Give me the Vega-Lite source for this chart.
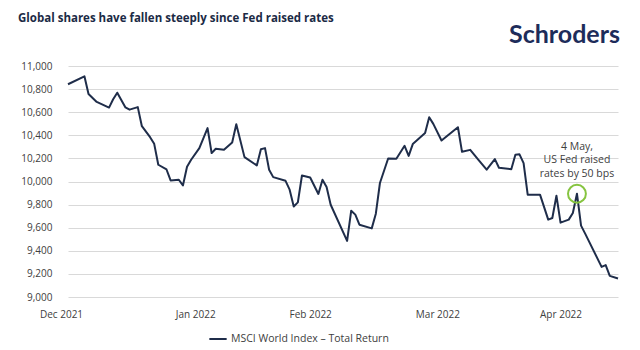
{
  "$schema": "https://vega.github.io/schema/vega-lite/v6.json",
  "width": 550,
  "height": 231,
  "autosize": "none",
  "padding": {"left": 68, "top": 66, "right": 22, "bottom": 53},
  "background": "#ffffff",
  "title": {
    "text": "Global shares have fallen steeply since Fed raised rates",
    "anchor": "start",
    "frame": "group",
    "dx": -50,
    "dy": 22,
    "offset": 12,
    "baseline": "alphabetic",
    "font": "Open Sans",
    "fontSize": 11.5,
    "fontWeight": "bold",
    "color": "#1b2a45"
  },
  "config": {"view": {"stroke": null}, "font": "Open Sans"},
  "encoding": {
    "x": {
      "field": "date",
      "type": "temporal",
      "scale": {"type": "utc", "domain": [{"year": 2021, "month": 12, "date": 31, "utc": true}, {"year": 2022, "month": 5, "date": 14, "utc": true}]},
      "axis": {
        "values": [
          {"year": 2021, "month": 12, "date": 31, "utc": true},
          {"year": 2022, "month": 1, "date": 31, "utc": true},
          {"year": 2022, "month": 2, "date": 28, "utc": true},
          {"year": 2022, "month": 3, "date": 31, "utc": true},
          {"year": 2022, "month": 4, "date": 30, "utc": true}
        ],
        "labelExpr": "utcFormat(datum.value, '%b %Y')",
        "grid": false,
        "domain": false,
        "ticks": false,
        "labelPadding": 12,
        "labelFlush": false,
        "labelOverlap": false,
        "labelOffset": {"condition": {"test": "utcmonth(datum.value) === 11", "value": -7}, "value": 0},
        "labelFont": "Open Sans",
        "labelFontSize": 10,
        "labelColor": "#404040",
        "title": null
      }
    },
    "y": {
      "field": "value",
      "type": "quantitative",
      "scale": {"domain": [9000, 11000], "nice": false, "zero": false},
      "axis": {
        "values": [9000, 9200, 9400, 9600, 9800, 10000, 10200, 10400, 10600, 10800, 11000],
        "tickCount": 11,
        "format": ",d",
        "grid": true,
        "gridColor": "#d9d9d9",
        "gridWidth": 1,
        "domain": false,
        "ticks": false,
        "labelOverlap": false,
        "labelBound": false,
        "labelPadding": 16,
        "labelFont": "Open Sans",
        "labelFontSize": 10,
        "labelColor": "#404040",
        "title": null
      }
    }
  },
  "layer": [
    {
      "data": {"values": [
        {"date": "2021-12-31", "value": 10842},
        {"date": "2022-01-04", "value": 10911},
        {"date": "2022-01-05", "value": 10758},
        {"date": "2022-01-07", "value": 10689},
        {"date": "2022-01-10", "value": 10640},
        {"date": "2022-01-11", "value": 10712},
        {"date": "2022-01-12", "value": 10769},
        {"date": "2022-01-14", "value": 10641},
        {"date": "2022-01-15", "value": 10622},
        {"date": "2022-01-17", "value": 10644},
        {"date": "2022-01-18", "value": 10479},
        {"date": "2022-01-20", "value": 10384},
        {"date": "2022-01-21", "value": 10326},
        {"date": "2022-01-22", "value": 10145},
        {"date": "2022-01-24", "value": 10104},
        {"date": "2022-01-25", "value": 10009},
        {"date": "2022-01-27", "value": 10015},
        {"date": "2022-01-28", "value": 9966},
        {"date": "2022-01-29", "value": 10127},
        {"date": "2022-01-30", "value": 10188},
        {"date": "2022-02-01", "value": 10289},
        {"date": "2022-02-03", "value": 10462},
        {"date": "2022-02-04", "value": 10246},
        {"date": "2022-02-05", "value": 10283},
        {"date": "2022-02-07", "value": 10274},
        {"date": "2022-02-09", "value": 10337},
        {"date": "2022-02-10", "value": 10496},
        {"date": "2022-02-12", "value": 10211},
        {"date": "2022-02-15", "value": 10139},
        {"date": "2022-02-16", "value": 10280},
        {"date": "2022-02-17", "value": 10289},
        {"date": "2022-02-18", "value": 10102},
        {"date": "2022-02-19", "value": 10038},
        {"date": "2022-02-22", "value": 10006},
        {"date": "2022-02-23", "value": 9929},
        {"date": "2022-02-24", "value": 9784},
        {"date": "2022-02-25", "value": 9819},
        {"date": "2022-02-26", "value": 10052},
        {"date": "2022-02-28", "value": 10035},
        {"date": "2022-03-02", "value": 9892},
        {"date": "2022-03-03", "value": 10015},
        {"date": "2022-03-04", "value": 9952},
        {"date": "2022-03-05", "value": 9799},
        {"date": "2022-03-09", "value": 9486},
        {"date": "2022-03-10", "value": 9747},
        {"date": "2022-03-11", "value": 9713},
        {"date": "2022-03-12", "value": 9626},
        {"date": "2022-03-15", "value": 9594},
        {"date": "2022-03-16", "value": 9721},
        {"date": "2022-03-17", "value": 9987},
        {"date": "2022-03-19", "value": 10199},
        {"date": "2022-03-21", "value": 10197},
        {"date": "2022-03-23", "value": 10309},
        {"date": "2022-03-24", "value": 10222},
        {"date": "2022-03-25", "value": 10324},
        {"date": "2022-03-28", "value": 10419},
        {"date": "2022-03-29", "value": 10557},
        {"date": "2022-03-30", "value": 10499},
        {"date": "2022-04-01", "value": 10355},
        {"date": "2022-04-05", "value": 10470},
        {"date": "2022-04-06", "value": 10257},
        {"date": "2022-04-08", "value": 10274},
        {"date": "2022-04-10", "value": 10188},
        {"date": "2022-04-12", "value": 10102},
        {"date": "2022-04-14", "value": 10194},
        {"date": "2022-04-15", "value": 10119},
        {"date": "2022-04-18", "value": 10106},
        {"date": "2022-04-19", "value": 10231},
        {"date": "2022-04-20", "value": 10235},
        {"date": "2022-04-21", "value": 10159},
        {"date": "2022-04-22", "value": 9886},
        {"date": "2022-04-25", "value": 9886},
        {"date": "2022-04-27", "value": 9670},
        {"date": "2022-04-28", "value": 9684},
        {"date": "2022-04-29", "value": 9877},
        {"date": "2022-04-30", "value": 9644},
        {"date": "2022-05-02", "value": 9670},
        {"date": "2022-05-03", "value": 9727},
        {"date": "2022-05-04", "value": 9894},
        {"date": "2022-05-05", "value": 9618},
        {"date": "2022-05-06", "value": 9549},
        {"date": "2022-05-10", "value": 9261},
        {"date": "2022-05-11", "value": 9276},
        {"date": "2022-05-12", "value": 9183},
        {"date": "2022-05-14", "value": 9160}
      ]},
      "mark": {"type": "line", "strokeWidth": 2, "strokeJoin": "round"},
      "encoding": {
        "color": {
          "datum": "MSCI World Index – Total Return",
          "scale": {"range": ["#1f2d4a"]},
          "legend": {
            "orient": "none",
            "legendX": 140,
            "legendY": 263,
            "direction": "horizontal",
            "title": null,
            "symbolType": "stroke",
            "symbolStrokeWidth": 2,
            "symbolSize": 300,
            "labelFont": "Open Sans",
            "labelFontSize": 10.5,
            "labelColor": "#404040",
            "labelOffset": 3
          }
        }
      }
    },
    {
      "data": {"values": [{"date": "2022-05-04", "value": 9894, "note": ["4 May,", "US Fed raised", "rates by 50 bps"]}]},
      "mark": {"type": "point", "shape": "circle", "filled": false, "size": 320, "stroke": "#86c440", "strokeWidth": 2, "opacity": 1},
      "encoding": {}
    },
    {
      "data": {"values": [{"date": "2022-05-04", "value": 9894, "note": ["4 May,", "US Fed raised", "rates by 50 bps"]}]},
      "mark": {"type": "text", "align": "center", "baseline": "bottom", "dy": -42, "lineHeight": 13.5, "font": "Open Sans", "fontSize": 10.5, "color": "#404040"},
      "encoding": {
        "text": {"field": "note", "type": "nominal"}
      }
    },
    {
      "data": {"values": [{"date": "2022-05-14", "value": 11000, "brand": "Schroders"}]},
      "mark": {"type": "text", "align": "right", "baseline": "alphabetic", "dx": 2, "dy": -23, "font": "Lato", "fontSize": 25, "fontWeight": "bold", "color": "#1d2c5a"},
      "encoding": {
        "text": {"field": "brand", "type": "nominal"}
      }
    }
  ]
}
